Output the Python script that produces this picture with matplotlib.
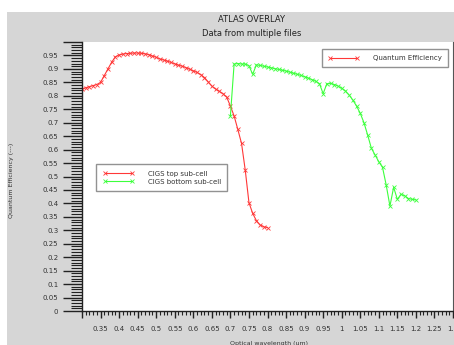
import matplotlib
matplotlib.use("Agg")
import matplotlib.pyplot as plt
import numpy as np
from matplotlib.patches import Rectangle
from matplotlib.lines import Line2D
from matplotlib.ticker import MultipleLocator, FuncFormatter

red_x = [0.30, 0.31, 0.32, 0.33, 0.34, 0.35, 0.36, 0.37, 0.38, 0.39,
         0.40, 0.41, 0.42, 0.43, 0.44, 0.45, 0.46, 0.47, 0.48, 0.49,
         0.50, 0.51, 0.52, 0.53, 0.54, 0.55, 0.56, 0.57, 0.58, 0.59,
         0.60, 0.61, 0.62, 0.63, 0.64, 0.65, 0.66, 0.67, 0.68, 0.69,
         0.70, 0.71, 0.72, 0.73, 0.74, 0.75, 0.76, 0.77, 0.78, 0.79, 0.80]
red_y = [0.824, 0.830, 0.834, 0.838, 0.842, 0.850, 0.875, 0.900, 0.925, 0.945,
         0.952, 0.955, 0.957, 0.958, 0.959, 0.959, 0.958, 0.956, 0.953, 0.948,
         0.943, 0.937, 0.933, 0.929, 0.924, 0.919, 0.914, 0.910, 0.905, 0.899,
         0.893, 0.887, 0.879, 0.868, 0.852, 0.836, 0.825, 0.817, 0.808, 0.795,
         0.762, 0.725, 0.675, 0.623, 0.524, 0.403, 0.363, 0.336, 0.320, 0.313, 0.310]

green_x = [0.70, 0.71, 0.72, 0.73, 0.74, 0.75, 0.76, 0.77, 0.78, 0.79,
           0.80, 0.81, 0.82, 0.83, 0.84, 0.85, 0.86, 0.87, 0.88, 0.89,
           0.90, 0.91, 0.92, 0.93, 0.94, 0.95, 0.96, 0.97, 0.98, 0.99,
           1.00, 1.01, 1.02, 1.03, 1.04, 1.05, 1.06, 1.07, 1.08, 1.09,
           1.10, 1.11, 1.12, 1.13, 1.14, 1.15, 1.16, 1.17, 1.18, 1.19, 1.20]
green_y = [0.725, 0.918, 0.920, 0.918, 0.918, 0.912, 0.880, 0.915, 0.913, 0.910,
           0.907, 0.904, 0.901, 0.898, 0.895, 0.892, 0.888, 0.884, 0.880, 0.876,
           0.871, 0.866, 0.860, 0.854, 0.845, 0.808, 0.845, 0.846, 0.842, 0.836,
           0.828, 0.818, 0.803, 0.784, 0.762, 0.735, 0.700, 0.654, 0.605, 0.580,
           0.555, 0.534, 0.468, 0.390, 0.460, 0.415, 0.434, 0.428, 0.418, 0.415, 0.413]

title = "ATLAS OVERLAY"
subtitle = "Data from multiple files"
xlabel = "Optical wavelength (um)"
ylabel = "Quantum Efficiency (---)"
label_top = "CIGS top sub-cell"
label_bottom = "CIGS bottom sub-cell"
label_qe = "Quantum Efficiency"

RED = "#ff3838"
GREEN = "#3cff3c"

fig = plt.figure(figsize=(4.54, 3.45), dpi=100)
fig.patch.set_facecolor("white")
fig.patches.append(Rectangle((7/454, 0), 1 - 7/454, (345-12)/345,
                             transform=fig.transFigure, facecolor="#d6d6d6",
                             edgecolor="none", zorder=-10))

ax = fig.add_axes([82/454, 34/345, 371/454, 269/345])
ax.set_facecolor("white")
ax.plot(red_x, red_y, color=RED, lw=0.8, marker="x", ms=3, mew=0.6)
ax.plot(green_x, green_y, color=GREEN, lw=0.8, marker="x", ms=3, mew=0.6)

ax.set_xlim(0.3, 1.3)
ax.set_ylim(0, 1.0)
ax.xaxis.set_major_locator(MultipleLocator(0.05))
ax.xaxis.set_minor_locator(MultipleLocator(0.01))
ax.yaxis.set_major_locator(MultipleLocator(0.05))
ax.yaxis.set_minor_locator(MultipleLocator(0.01))

def fmt(v):
    return ("%.2f" % v).rstrip("0").rstrip(".")

ax.xaxis.set_major_formatter(FuncFormatter(lambda v, p: "" if abs(v-0.3) < 1e-6 else fmt(v)))
ax.yaxis.set_major_formatter(FuncFormatter(lambda v, p: "" if v > 0.96 else fmt(v)))

ax.tick_params(axis="y", which="major", length=14, width=1.0, labelsize=5, pad=3, color="#222222", labelcolor="#333333")
ax.tick_params(axis="y", which="minor", length=8, width=0.8, color="#222222")
ax.tick_params(axis="x", which="major", length=5, width=1.0, labelsize=5, pad=6, color="#222222", labelcolor="#333333")
ax.tick_params(axis="x", which="minor", length=3, width=0.8, color="#222222")

for s in ["left", "bottom"]:
    ax.spines[s].set_color("#222222")
    ax.spines[s].set_linewidth(1.0)
ax.spines["top"].set_visible(False)
ax.spines["right"].set_color("#555555")
ax.spines["right"].set_linewidth(0.8)

fig.text(252/454, 1 - 19/345, title, ha="center", va="center", fontsize=6, color="#222222")
fig.text(252/454, 1 - 34/345, subtitle, ha="center", va="center", fontsize=6, color="#222222")
fig.text(230/454, 1 - 343/345, xlabel, ha="left", va="center", fontsize=4.5, color="#333333")
fig.text(12/454, 1 - 180/345, ylabel, ha="center", va="center", rotation=90, fontsize=4.5, color="#333333")

h_top = Line2D([], [], color=RED, lw=0.8, marker="x", ms=3, mew=0.6)
h_bot = Line2D([], [], color=GREEN, lw=0.8, marker="x", ms=3, mew=0.6)
leg1 = ax.legend([h_top, h_bot], [label_top, label_bottom],
                 loc="upper left", bbox_to_anchor=(93/454, 1 - 161/345),
                 bbox_transform=fig.transFigure, fontsize=5, frameon=True,
                 fancybox=False, edgecolor="#777777", handlelength=4.5, numpoints=2,
                 borderpad=0.9, labelspacing=0.3, handletextpad=2.0)
leg1.get_frame().set_linewidth(1.0)
for t in leg1.get_texts():
    t.set_color("#333333")
ax.add_artist(leg1)

h_qe = Line2D([], [], color=RED, lw=0.8, marker="x", ms=3, mew=0.6)
leg2 = ax.legend([h_qe], [label_qe], loc="upper left",
                 bbox_to_anchor=(319/454, 1 - 46/345), bbox_transform=fig.transFigure,
                 fontsize=5, frameon=True, fancybox=False, edgecolor="#777777", numpoints=2,
                 handlelength=4.5, borderpad=0.8, handletextpad=2.0)
leg2.get_frame().set_linewidth(1.0)
for t in leg2.get_texts():
    t.set_color("#333333")

fig.savefig("out.png", dpi=100)
